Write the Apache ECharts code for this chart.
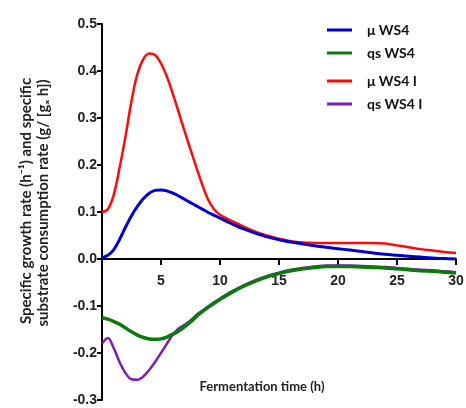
<!DOCTYPE html>
<html><head><meta charset="utf-8">
<script src="https://cdn.jsdelivr.net/npm/echarts@6/dist/echarts.min.js"></script>
<style>html,body{margin:0;padding:0;background:#fff}#c{width:466px;height:408px}</style>
</head><body><div id="c"></div>
<script>
var time = [0,0.5,1,1.5,2,2.5,3,3.5,4,4.5,5,5.5,6,6.5,7,7.5,8,8.5,9,9.5,10,11,12,13,14,15,16,17,18,19,20,21,22,23,24,25,26,27,28,29,30];
var muWS4 = [0.003,0.008,0.020,0.042,0.068,0.092,0.112,0.128,0.140,0.146,0.147,0.145,0.140,0.134,0.127,0.120,0.113,0.106,0.099,0.093,0.087,0.075,0.064,0.055,0.047,0.041,0.036,0.032,0.028,0.025,0.022,0.019,0.016,0.013,0.010,0.008,0.006,0.004,0.002,0.001,0.000];
var muWS4I = [0.100,0.106,0.137,0.195,0.262,0.336,0.394,0.425,0.437,0.434,0.416,0.388,0.352,0.312,0.272,0.233,0.195,0.158,0.126,0.106,0.094,0.081,0.069,0.058,0.050,0.043,0.038,0.035,0.034,0.034,0.034,0.034,0.034,0.034,0.033,0.029,0.025,0.021,0.018,0.015,0.013];
var qsWS4 = [-0.125,-0.128,-0.133,-0.139,-0.147,-0.155,-0.162,-0.167,-0.170,-0.171,-0.170,-0.166,-0.160,-0.153,-0.144,-0.134,-0.122,-0.112,-0.103,-0.094,-0.086,-0.071,-0.058,-0.047,-0.038,-0.031,-0.025,-0.021,-0.018,-0.016,-0.016,-0.016,-0.017,-0.018,-0.019,-0.021,-0.023,-0.025,-0.026,-0.028,-0.030];
var qsWS4I = [-0.180,-0.168,-0.190,-0.220,-0.243,-0.256,-0.257,-0.250,-0.236,-0.219,-0.200,-0.180,-0.161,-0.148,-0.140,-0.131,-0.119,-0.110,-0.101,-0.092,-0.084,-0.069,-0.056,-0.045,-0.036,-0.029,-0.023,-0.019,-0.016,-0.014,-0.014,-0.014,-0.015,-0.016,-0.017,-0.019,-0.021,-0.023,-0.024,-0.026,-0.028];
var names = ['\u03bc WS4','qs WS4','\u03bc WS4 I','qs WS4 I'];
var yTitle1 = 'Specific growth rate (h\u207b\u00b9) and specific';
var yTitle2 = 'substrate consumption rate (g/ [g\u2093 h])';
var xTitle = 'Fermentation time (h)';
var yMin = -0.3, yMax = 0.5;

function pairs(ys){ return time.map(function(t,i){ return [t, ys[i]]; }); }

var W = 466, H = 408, gTop = 24, gBottom = 8;
var plotH = H - gTop - gBottom;
var zeroOffset = -plotH * (0 - yMin) / (yMax - yMin); // move x axis up to y = 0

var chart = echarts.init(document.getElementById('c'));
var legendText = {fontFamily:'Lato', fontWeight:'bold', fontSize:14, color:'#111', lineHeight:16, padding:[0,0,0,10]};
chart.setOption({
  animation:false,
  grid:{left:102, right:10, top:gTop, bottom:gBottom, containLabel:false, outerBoundsMode:'none'},
  legend:[
    {data:[names[0],names[1]], orient:'vertical', left:322, top:17, itemWidth:25, itemHeight:3, itemGap:7, icon:'rect', textStyle:legendText},
    {data:[names[2],names[3]], orient:'vertical', left:322, top:68, itemWidth:25, itemHeight:3, itemGap:7, icon:'rect', textStyle:legendText}
  ],
  xAxis:{type:'value', min:0, max:30, interval:5, position:'bottom', offset:zeroOffset,
    axisLine:{onZero:false, lineStyle:{color:'#000', width:2}},
    axisTick:{show:true, length:6, lineStyle:{color:'#000', width:2}},
    axisLabel:{showMinLabel:false, margin:15, fontFamily:'Liberation Sans', fontWeight:'bold', fontSize:14, color:'#222',
      formatter:function(v){return v===0?'':String(v);}},
    splitLine:{show:false}},
  yAxis:{type:'value', min:yMin, max:yMax, interval:0.1,
    axisLine:{show:true, onZero:false, lineStyle:{color:'#000', width:2}},
    axisTick:{show:true, length:5, lineStyle:{color:'#000', width:2}},
    axisLabel:{margin:5, fontFamily:'Liberation Sans', fontWeight:'bold', fontSize:14, color:'#222',
      formatter:function(v){return v.toFixed(1);}},
    splitLine:{show:false}},
  graphic:[
    {type:'text', x:26, y:201, rotation:Math.PI/2, style:{text:yTitle1, font:'bold 15px Lato', fill:'#222', textAlign:'center', textVerticalAlign:'middle'}},
    {type:'text', x:43, y:203, rotation:Math.PI/2, style:{text:yTitle2, font:'bold 15px Lato', fill:'#222', textAlign:'center', textVerticalAlign:'middle'}},
    {type:'text', x:262, y:387, style:{text:xTitle, font:'bold 13px Lato', fill:'#222', textAlign:'center', textVerticalAlign:'middle'}}
  ],
  series:[
    {name:names[0], type:'line', smooth:0.35, showSymbol:false, data:pairs(muWS4), z:4, lineStyle:{color:'#0000cc', width:3}, itemStyle:{color:'#0000cc'}},
    {name:names[1], type:'line', smooth:0.35, showSymbol:false, data:pairs(qsWS4), z:4, lineStyle:{color:'#0b7a0b', width:3.5}, itemStyle:{color:'#0b7a0b'}},
    {name:names[2], type:'line', smooth:0.35, showSymbol:false, data:pairs(muWS4I), z:3, lineStyle:{color:'#ff0a0a', width:2.5}, itemStyle:{color:'#ff0a0a'}},
    {name:names[3], type:'line', smooth:0.35, showSymbol:false, data:pairs(qsWS4I), z:3, lineStyle:{color:'#7a1fb0', width:2.5}, itemStyle:{color:'#7a1fb0'}}
  ]
});
</script></body></html>
